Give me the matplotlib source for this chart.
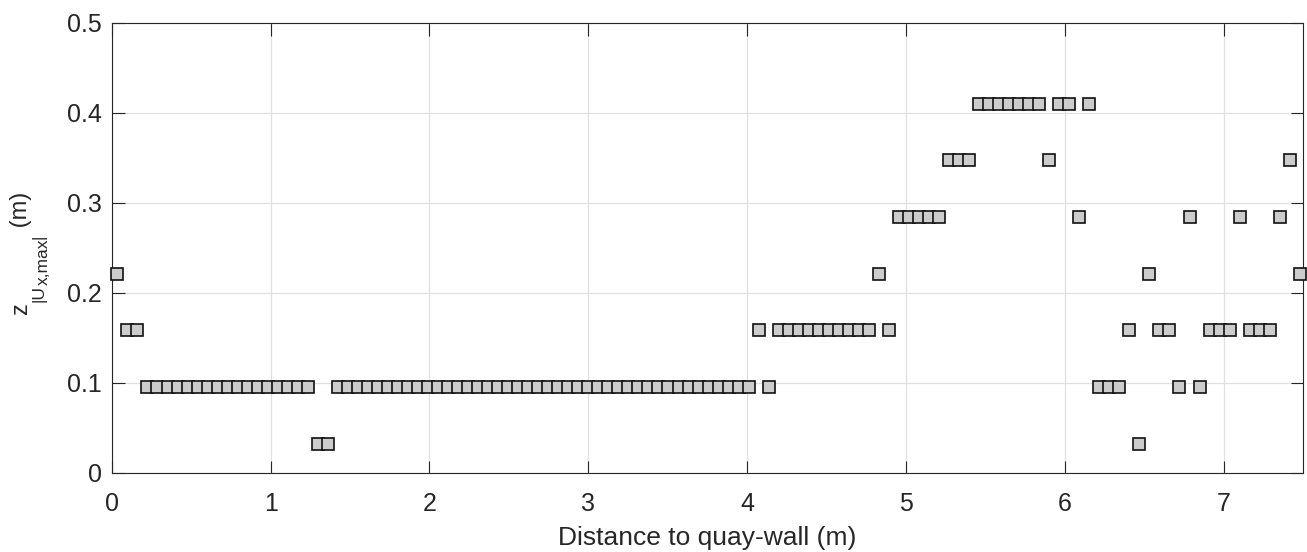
import numpy as np
import matplotlib
matplotlib.use('Agg')
from matplotlib import pyplot as plt
from matplotlib.transforms import IdentityTransform

plt.rcParams['font.family'] = ['Liberation Sans', 'DejaVu Sans']

# sample positions along the wall (m)
dist = [0.035, 0.098, 0.161, 0.224, 0.288, 0.351, 0.414, 0.477, 0.540, 0.603,
        0.666, 0.729, 0.792, 0.855, 0.918, 0.981, 1.045, 1.108, 1.171, 1.234,
        1.297, 1.360, 1.423, 1.486, 1.549, 1.612, 1.675, 1.738, 1.802, 1.865,
        1.928, 1.991, 2.054, 2.117, 2.180, 2.243, 2.306, 2.369, 2.432, 2.495,
        2.559, 2.622, 2.685, 2.748, 2.811, 2.874, 2.937, 3.000, 3.063, 3.126,
        3.189, 3.252, 3.316, 3.379, 3.442, 3.505, 3.568, 3.631, 3.694, 3.757,
        3.820, 3.883, 3.946, 4.010, 4.073, 4.136, 4.199, 4.262, 4.325, 4.388,
        4.451, 4.514, 4.577, 4.640, 4.703, 4.767, 4.830, 4.893, 4.956, 5.019,
        5.082, 5.145, 5.208, 5.271, 5.334, 5.397, 5.460, 5.524, 5.587, 5.650,
        5.713, 5.776, 5.839, 5.902, 5.965, 6.028, 6.091, 6.154, 6.217, 6.281,
        6.344, 6.407, 6.470, 6.533, 6.596, 6.659, 6.722, 6.785, 6.848, 6.911,
        6.974, 7.038, 7.101, 7.164, 7.227, 7.290, 7.353, 7.416, 7.479]

# height of max |Ux| (m)
z_umax = [0.221, 0.158, 0.158, 0.095, 0.095, 0.095, 0.095, 0.095, 0.095, 0.095,
          0.095, 0.095, 0.095, 0.095, 0.095, 0.095, 0.095, 0.095, 0.095, 0.095,
          0.032, 0.032, 0.095, 0.095, 0.095, 0.095, 0.095, 0.095, 0.095, 0.095,
          0.095, 0.095, 0.095, 0.095, 0.095, 0.095, 0.095, 0.095, 0.095, 0.095,
          0.095, 0.095, 0.095, 0.095, 0.095, 0.095, 0.095, 0.095, 0.095, 0.095,
          0.095, 0.095, 0.095, 0.095, 0.095, 0.095, 0.095, 0.095, 0.095, 0.095,
          0.095, 0.095, 0.095, 0.095, 0.158, 0.095, 0.158, 0.158, 0.158, 0.158,
          0.158, 0.158, 0.158, 0.158, 0.158, 0.158, 0.221, 0.158, 0.284, 0.284,
          0.284, 0.284, 0.284, 0.347, 0.347, 0.347, 0.410, 0.410, 0.410, 0.410,
          0.410, 0.410, 0.410, 0.347, 0.410, 0.410, 0.284, 0.410, 0.095, 0.095,
          0.095, 0.158, 0.032, 0.221, 0.158, 0.158, 0.095, 0.284, 0.095, 0.158,
          0.158, 0.158, 0.284, 0.158, 0.158, 0.158, 0.284, 0.347, 0.221]

xticks = [0, 1, 2, 3, 4, 5, 6, 7]
yticks = [0, 0.1, 0.2, 0.3, 0.4, 0.5]

fig = plt.figure(figsize=(13.07, 5.52), dpi=100)
ax = fig.add_axes([0.0855, 0.144, 0.9115, 0.815])

ax.plot(dist, z_umax, linestyle='none', marker='s', markersize=8.9,
        markerfacecolor='#cccccc', markeredgecolor='#111111', markeredgewidth=1.2,
        zorder=3, clip_on=False)

ax.set_xlim(0, 7.5)
ax.set_ylim(0, 0.5)
ax.set_xticks(xticks)
ax.set_yticks(yticks)
ax.set_xticklabels([str(t) for t in xticks])
ax.set_yticklabels(['0', '0.1', '0.2', '0.3', '0.4', '0.5'])
ax.grid(True, color='#e0e0e0', linewidth=0.9)
ax.set_axisbelow(True)
ax.tick_params(direction='in', length=9, width=0.8, colors='#262626',
               labelsize=18, top=True, right=True)
ax.tick_params(axis='x', pad=14)
ax.tick_params(axis='y', pad=7)
for s in ax.spines.values():
    s.set_color('#262626')
    s.set_linewidth(0.8)

ax.set_xlabel('Distance to quay-wall (m)', fontsize=19, color='#262626', labelpad=7)

# y label built piece by piece (MATLAB-style nested subscripts)
pieces = [('z', 0, 17), ('|U', 16, 12.5), ('x,max', 21, 12.5), ('|', 16, 12.5), (' (m)', 0, 17)]
renderer = fig.canvas.get_renderer()
xb, yb = 27, 552 - 314
for txt, drop, fs in pieces:
    t = fig.text(xb + drop, yb, txt, rotation=90, rotation_mode='anchor',
                 ha='left', va='baseline', fontsize=fs, color='#262626',
                 transform=IdentityTransform())
    yb += t.get_window_extent(renderer).height

fig.savefig('out.png', dpi=100)
